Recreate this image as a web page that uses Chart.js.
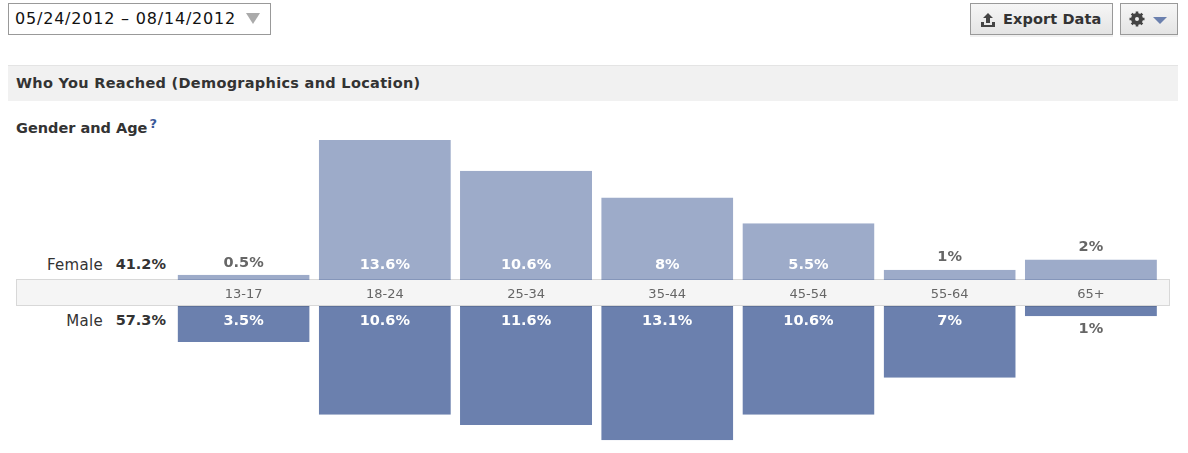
<!DOCTYPE html>
<html>
<head>
<meta charset="utf-8">
<script src="https://cdn.jsdelivr.net/npm/chart.js@4"></script>
<style>
    html, body { margin: 0; padding: 0; background: #fff; }
    body { width: 1188px; height: 453px; position: relative; overflow: hidden; font-family: "DejaVu Sans", sans-serif; color: #333; }
    .abs { position: absolute; white-space: nowrap; }
    #range { left: 8px; top: 3px; width: 261px; height: 30px; border: 1px solid #999; line-height: 29px; font-size: 16px; color: #111; text-indent: 6px; letter-spacing: 0.8px; }
    #arrow { left: 246px; top: 13px; width: 0; height: 0; border-left: 7px solid transparent; border-right: 7px solid transparent; border-top: 11px solid #aaa; }
    .btn { top: 3px; height: 30px; border: 1px solid #999; background: linear-gradient(#f6f6f6, #e4e4e4); box-shadow: 0 2px 0 #f0f0f0; font-weight: bold; font-size: 14.5px; line-height: 30px; color: #333; }
    #export { left: 970px; width: 141px; }
    #export svg { position: absolute; left: 9px; top: 8px; }
    #export span { position: absolute; left: 32px; letter-spacing: 0.1px; }
    #gear { left: 1120px; width: 56px; }
    #gear svg { position: absolute; left: 8px; top: 7px; }
    #caret { position: absolute; left: 32px; top: 13px; width: 0; height: 0; border-left: 7px solid transparent; border-right: 7px solid transparent; border-top: 7px solid #6b80ae; }
    #header { left: 8px; top: 65px; width: 1170px; height: 36px; background: #f1f1f1; border-top: 1px solid #e4e4e4; box-sizing: border-box; font-weight: bold; font-size: 14.5px; line-height: 34px; text-indent: 8px; letter-spacing: 0.3px; }
    #title { left: 16px; top: 120px; font-weight: bold; font-size: 14.5px; }
    #title sup { color: #3b5998; font-size: 13px; font-weight: bold; vertical-align: 5px; line-height: 0; margin-left: 2px; }
    #band { left: 16px; top: 279px; width: 1154px; height: 27px; box-sizing: border-box; background: #f5f5f5; border: 1px solid #d8d8d8; }
    .side { font-size: 15px; letter-spacing: 0.3px; }
    .pct { font-weight: bold; font-size: 14.5px; }
    canvas { display: block; }
    .chart-box { position: absolute; left: 0; width: 1188px; }
</style>
</head>
<body>
<div class="abs" id="range">05/24/2012 – 08/14/2012</div>
<div class="abs" id="arrow"></div>
<div class="abs btn" id="export">
    <svg width="16" height="16" viewBox="0 0 16 16"><path d="M8 1 L13 6 H10 V11 H6 V6 H3 Z M1 10 H4 V13 H12 V10 H15 V15 H1 Z" fill="#444"/></svg>
    <span>Export Data</span>
</div>
<div class="abs btn" id="gear">
    <svg width="16" height="16" viewBox="0 0 16 16"><circle cx="8" cy="8" r="4.5" fill="none" stroke="#444" stroke-width="3"/><path d="M8 0.5 V15.5 M0.5 8 H15.5 M2.7 2.7 L13.3 13.3 M13.3 2.7 L2.7 13.3" stroke="#444" stroke-width="2.6"/><circle cx="8" cy="8" r="2" fill="#eee"/></svg>
    <div id="caret"></div>
</div>
<div class="abs" id="header">Who You Reached (Demographics and Location)</div>
<div class="abs" id="title">Gender and Age<sup>?</sup></div>
<div class="abs" id="band"></div>
<div class="abs side" style="right:1085px; top:256px;">Female</div>
<div class="abs pct" style="right:1022px; top:256px;">41.2%</div>
<div class="abs side" style="right:1085px; top:312px;">Male</div>
<div class="abs pct" style="right:1022px; top:312px;">57.3%</div>
<div class="chart-box" style="top:130px; height:176px;"><canvas id="femaleChart"></canvas></div>
<div class="chart-box" style="top:306px; height:147px;"><canvas id="maleChart"></canvas></div>

<script>
// Values
const ageGroups = ['13-17', '18-24', '25-34', '35-44', '45-54', '55-64', '65+'];
const femaleValues = [0.5, 13.6, 10.6, 8, 5.5, 1, 2];
const maleValues = [3.5, 10.6, 11.6, 13.1, 10.6, 7, 1];

const femaleColor = '#9dabc9';
const maleColor = '#6b80ae';
const labelFont = 'bold 14.5px "DejaVu Sans", sans-serif';

// Writes the percentage on each bar, or next to it when the bar is too short
const barLabels = {
    id: 'barLabels',
    afterDatasetsDraw(chart) {
        const ctx = chart.ctx;
        const flipped = chart.options.scales.y.reverse;
        const values = chart.data.datasets[0].data;
        ctx.save();
        ctx.font = labelFont;
        ctx.textAlign = 'center';
        ctx.textBaseline = 'middle';
        chart.getDatasetMeta(0).data.forEach((bar, i) => {
            const inside = values[i] >= 3;
            let y;
            if (flipped) {
                y = inside ? bar.base + 15 : bar.y + 13;
            } else {
                y = inside ? bar.base - 15 : bar.y - 12;
            }
            ctx.fillStyle = inside ? '#fff' : '#666';
            ctx.fillText(values[i] + '%', bar.x, y);
        });
        ctx.restore();
    }
};

function makeChart(id, values, color, edge, flipped, maxValue) {
    const ctx = document.getElementById(id).getContext('2d');
    return new Chart(ctx, {
        type: 'bar',
        data: {
            labels: ageGroups,
            datasets: [{
                data: values,
                backgroundColor: color,
                borderColor: edge,
                borderWidth: flipped ? { top: 1 } : { bottom: 1 },
                borderSkipped: false,
                categoryPercentage: 1,
                barPercentage: 0.935
            }]
        },
        plugins: [barLabels],
        options: {
            responsive: true,
            maintainAspectRatio: false,
            animation: false,
            layout: { padding: { left: 173, right: 26.5, top: 0, bottom: 0 } },
            plugins: { legend: { display: false }, tooltip: { enabled: false } },
            scales: {
                x: {
                    display: !flipped,
                    grid: { display: false },
                    border: { display: false },
                    ticks: {
                        color: '#666',
                        font: { size: 13, family: '"DejaVu Sans", sans-serif' },
                        padding: -1,
                        maxRotation: 0,
                        autoSkip: false
                    },
                    // the top chart keeps a fixed strip for the age labels
                    afterFit(scale) { if (!flipped) scale.height = 26; }
                },
                y: {
                    display: false,
                    reverse: flipped,
                    min: 0,
                    max: maxValue
                }
            }
        }
    });
}

makeChart('femaleChart', femaleValues, femaleColor, '#8596ba', false, 14.56);
makeChart('maleChart', maleValues, maleColor, '#5c7099', true, 14.34);
</script>
</body>
</html>
